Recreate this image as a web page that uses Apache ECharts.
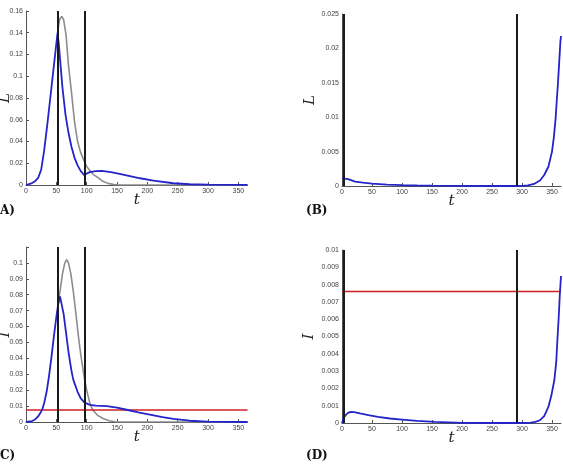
<!DOCTYPE html>
<html>
<head>
<meta charset="utf-8">
<script src="https://cdn.jsdelivr.net/npm/echarts@6/dist/echarts.min.js"></script>
<style>
  html, body { margin: 0; padding: 0; background: #fff; }
  #main { width: 563px; height: 465px; }
</style>
</head>
<body>
<div id="main"></div>
<script>
// panel A: L (blue = with control, gray = without)
const tBlueL = [0,5,10,15,20,25,30,35,40,45,50,52,54,57,60,65,70,75,80,85,90,96,100,105,115,125,140,160,188,210,243,270,300,365];
const blueL = [0,0.0008,0.0018,0.0035,0.0065,0.014,0.032,0.055,0.08,0.105,0.13,0.14,0.13,0.11,0.09,0.065,0.048,0.035,0.025,0.018,0.013,0.009,0.0105,0.0118,0.0127,0.0129,0.0118,0.0095,0.0062,0.004,0.0016,0.0007,0.0003,0.0001];
const tGrayL = [52,54,56,59,62,66,70,75,80,85,90,96,100,110,117,125,135,145,155,200,365];
const grayL = [0.14,0.148,0.153,0.155,0.152,0.138,0.11,0.085,0.058,0.04,0.03,0.022,0.017,0.01,0.0075,0.004,0.0015,0.0004,0,0,0];

// panel C: I
const tBlueI = [0,10,15,20,24,26.5,30,34,38,42,46,50,53,56,58,62,66,70,75,78,85,90,96,105,115,133,150,166,185,204,225,243,270,300,365];
const blueI = [0,0.0006,0.0016,0.0035,0.006,0.0076,0.012,0.019,0.029,0.041,0.054,0.066,0.074,0.079,0.078,0.068,0.056,0.044,0.032,0.0265,0.019,0.015,0.0123,0.0108,0.0103,0.01,0.009,0.0077,0.006,0.0046,0.003,0.0019,0.0008,0.0002,0];
const tGrayI = [53,56,60,64,67,70,74,78,82,86,90,96,100,105,110,118,127,137,147,160,365];
const grayI = [0.074,0.082,0.093,0.1,0.102,0.1,0.093,0.082,0.069,0.055,0.043,0.028,0.02,0.012,0.0075,0.0042,0.0022,0.0008,0.0002,0,0];

// panel B: L, second scenario
const tB = [0,3,10,22,35,50,75,100,125,150,200,250,290,300,310,320,330,337,344,350,353,356,358,360,362,364,365];
const blueB = [0.0011,0.0012,0.001,0.00065,0.00048,0.00035,0.0002,0.00012,0.00007,0.00004,0.00001,0,0,0.00003,0.0001,0.0003,0.0008,0.0016,0.0028,0.005,0.007,0.0098,0.0125,0.015,0.018,0.021,0.0218];

// panel D: I, second scenario
const tD = [0,3,6,10,15,20,30,44,60,80,100,125,155,200,250,300,315,322,330,337,344,349,354,357,359,361,363,365];
const blueD = [0,0.0003,0.00045,0.00058,0.00064,0.00063,0.00055,0.00045,0.00035,0.00026,0.0002,0.00012,0.00006,0.00001,0,0,0.00002,0.00006,0.00016,0.0004,0.00093,0.0016,0.0025,0.0035,0.0048,0.006,0.0074,0.0085];

// control switch times and threshold
const switchAC = [53, 96];
const switchBD = [3, 291];
const threshold = 0.0076;
const tRange = [0, 365];

const pairs = (t, v) => t.map((x, i) => [x, v[i]]);

const chart = echarts.init(document.getElementById('main'));

const axisFont = 'Liberation Sans';
const nameStyle = { fontFamily: 'DejaVu Serif', fontStyle: 'italic', fontSize: 15, color: '#222' };

function xAx(i) {
  return {
    type: 'value', gridIndex: i, min: 0, max: 365, interval: 50,
    name: 't', nameLocation: 'middle', nameGap: 8, nameMoveOverlap: false, nameTextStyle: nameStyle,
    axisLine: { lineStyle: { color: '#555', width: 1 } },
    axisTick: { inside: true, length: 3, lineStyle: { color: '#555' } },
    axisLabel: { fontSize: 7, color: '#444', fontFamily: axisFont, margin: 3, showMaxLabel: false },
    splitLine: { show: false }
  };
}
function yAx(i, name, max, interval, gap) {
  return {
    type: 'value', gridIndex: i, min: 0, max: max, interval: interval,
    name: name, nameLocation: 'middle', nameRotate: 90, nameGap: gap, nameMoveOverlap: false, nameTextStyle: nameStyle,
    axisLine: { show: true, lineStyle: { color: '#555', width: 1 } },
    axisTick: { show: true, inside: true, length: 3, lineStyle: { color: '#555' } },
    axisLabel: { fontSize: 7, color: '#444', fontFamily: axisFont, margin: 3,
      formatter: v => (v > max - interval / 2 && max === 0.11) ? '' : String(+v.toFixed(4)) },
    splitLine: { show: false }
  };
}
function vlines(ts) {
  return { silent: true, symbol: 'none', label: { show: false },
    lineStyle: { color: '#1a1a1a', width: 2, type: 'solid' },
    data: ts.map(x => ({ xAxis: x })) };
}
function line(i, data, color, width, extra) {
  return Object.assign({ type: 'line', xAxisIndex: i, yAxisIndex: i, data: data,
    showSymbol: false, symbol: 'none', lineStyle: { color: color, width: width }, silent: true, animation: false }, extra || {});
}
const thresholdLine = tRange.map(x => [x, threshold]);

const gridBase = { outerBoundsMode: 'none', containLabel: false };

chart.setOption({
  animation: false,
  grid: [
    Object.assign({ left: 26, top: 11, width: 221.5, height: 174 }, gridBase),
    Object.assign({ left: 342, top: 14, width: 219, height: 172 }, gridBase),
    Object.assign({ left: 26, top: 247, width: 221.5, height: 175 }, gridBase),
    Object.assign({ left: 342, top: 250, width: 219, height: 173 }, gridBase)
  ],
  xAxis: [xAx(0), xAx(1), xAx(2), xAx(3)],
  yAxis: [
    yAx(0, 'L', 0.16, 0.02, 13),
    yAx(1, 'L', 0.025, 0.005, 24),
    yAx(2, 'I', 0.11, 0.01, 13),
    yAx(3, 'I', 0.01, 0.001, 25)
  ],
  series: [
    line(0, pairs(tGrayL, grayL), '#8c8c8c', 1.6),
    line(0, pairs(tBlueL, blueL), '#2424c8', 1.8, { markLine: vlines(switchAC) }),
    line(1, pairs(tB, blueB), '#2424c8', 1.8, { markLine: vlines(switchBD) }),
    line(2, pairs(tGrayI, grayI), '#8c8c8c', 1.6),
    line(2, thresholdLine, '#d01f24', 1.5),
    line(2, pairs(tBlueI, blueI), '#2424c8', 1.8, { markLine: vlines(switchAC) }),
    line(3, thresholdLine, '#d01f24', 1.5),
    line(3, pairs(tD, blueD), '#2424c8', 1.8, { markLine: vlines(switchBD) })
  ],
  graphic: [
    { type: 'text', left: 0, top: 205, style: { text: 'A)', font: 'bold 12px "DejaVu Serif"', fill: '#111' } },
    { type: 'text', left: 306, top: 205, style: { text: '(B)', font: 'bold 12px "DejaVu Serif"', fill: '#111' } },
    { type: 'text', left: 0, top: 450, style: { text: 'C)', font: 'bold 12px "DejaVu Serif"', fill: '#111' } },
    { type: 'text', left: 306, top: 450, style: { text: '(D)', font: 'bold 12px "DejaVu Serif"', fill: '#111' } }
  ]
});
</script>
</body>
</html>
